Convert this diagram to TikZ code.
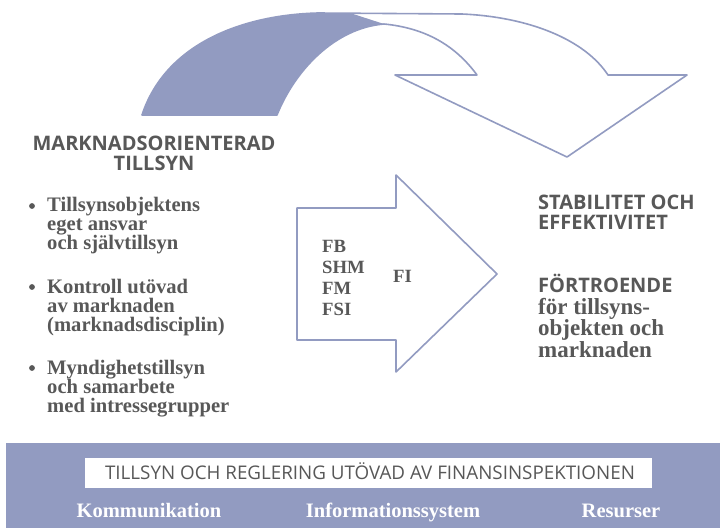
\documentclass[tikz,border=0pt]{standalone}
\usepackage{fontspec}
\setmainfont{Liberation Serif}
\setsansfont{Open Sans}
\usepackage{tikz}
\definecolor{fiblue}{RGB}{146,155,193}
\definecolor{figray}{RGB}{88,88,88}

\begin{document}
\begin{tikzpicture}[x=1pt,y=-1pt]
\tikzstyle{every node}+=[inner sep=0pt]
\tikzstyle{caps}=[font=\sffamily\bfseries\fontsize{20}{19.5}\selectfont, text=figray, align=left, anchor=base west]
\tikzstyle{body}=[font=\bfseries\fontsize{20.6}{19}\selectfont, text=figray, align=left, anchor=base west]
\tikzstyle{tool}=[font=\bfseries\fontsize{20.5}{20}\selectfont, text=white, anchor=base]
\tikzstyle{outline}=[draw=fiblue, line width=1.6pt, line join=round]
\useasboundingbox (0,0) rectangle (720,528);
\fill [white] (0,0) rectangle (720,528);
\begin{scope}
\clip (0,0) -- (340,0) -- (347,12) -- (384,24) -- (384,140) -- (0,140) -- cycle;
\fill [fiblue] (142,115) .. controls (165,45) and (240,15) .. (318,13) -- (462,14)
  .. controls (530,17) and (585,40) .. (608,75) -- (687,75) -- (567,157) -- (395,75) -- (477,75)
  .. controls (455,45) and (425,28) .. (384,24) .. controls (335,28) and (295,70) .. (277,115) -- cycle;
\end{scope}
\draw [outline] (142,115) .. controls (165,45) and (240,15) .. (318,13) -- (462,14)
  .. controls (530,17) and (585,40) .. (608,75) -- (687,75) -- (567,157) -- (395,75) -- (477,75)
  .. controls (455,45) and (425,28) .. (384,24) .. controls (335,28) and (295,70) .. (277,115) -- cycle;
\draw [outline] (297,208) -- (396,208) -- (396,175) -- (497,274) -- (396,372) -- (396,340) -- (297,340) -- cycle;
\node (market) at (154,170) [caps, align=center, anchor=base] {MARKNADSORIENTERAD\\TILLSYN};
\fill [figray] (32,206) circle (2.9);
\node (own) at (47,249) [body] {Tillsynsobjektens\\eget ansvar\\och självtillsyn};
\fill [figray] (32,287) circle (2.9);
\node (discipline) at (47,331) [body] {Kontroll utövad\\av marknaden\\(marknadsdisciplin)};
\fill [figray] (32,368) circle (2.9);
\node (authority) at (47,412) [body] {Myndighetstillsyn\\och samarbete\\med intressegrupper};
\node (fb) at (322,315) [body, font=\bfseries\fontsize{18.7}{21}\selectfont] {FB\\SHM\\FM\\FSI};
\node (fi) at (393,282) [body, font=\bfseries\fontsize{18.7}{20}\selectfont] {FI};
\node (stab) at (538,229) [caps] {STABILITET OCH\\EFFEKTIVITET};
\node (trust) at (538,292) [caps] {FÖRTROENDE};
\node (trustobj) at (538,357) [body, font=\bfseries\fontsize{23}{21.5}\selectfont] {för tillsyns-\\objekten och\\marknaden};
\fill [fiblue] (6,443) rectangle (720,528);
\fill [white] (85,458) rectangle (652,488);
\node (fibox) at (370,479) [font=\sffamily\fontsize{18.8}{20}\selectfont, text=figray, anchor=base] {TILLSYN OCH REGLERING UTÖVAD AV FINANSINSPEKTIONEN};
\node (komm) at (149,517) [tool] {Kommunikation};
\node (info) at (393,517) [tool] {Informationssystem};
\node (res) at (621,517) [tool] {Resurser};
\end{tikzpicture}
\end{document}
